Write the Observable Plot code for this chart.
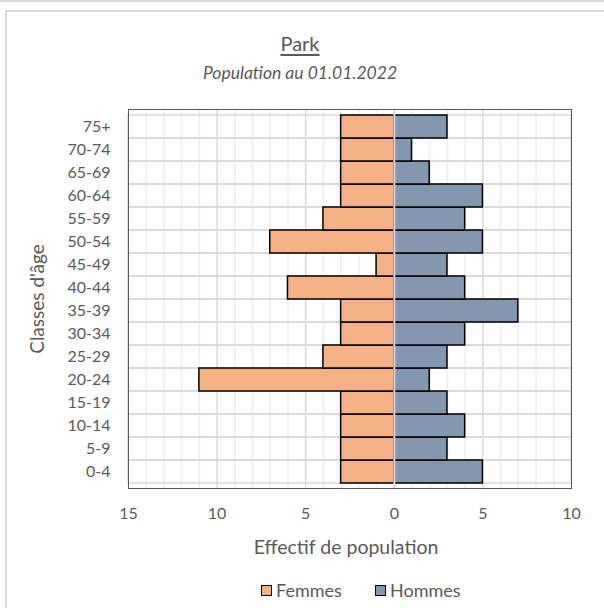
<!DOCTYPE html>
<html><head><meta charset="utf-8">
<script src="https://cdn.jsdelivr.net/npm/d3@7"></script>
<script src="https://cdn.jsdelivr.net/npm/@observablehq/plot@0.6"></script>
<style>
body{margin:0;background:#fff;font-family:Lato,sans-serif;}
#page{position:relative;width:604px;height:608px;overflow:hidden;background:#fff;}
#topbar{position:absolute;left:0;top:0;width:604px;height:2px;background:#d9d9d9}
#border{position:absolute;left:5px;top:10px;width:640px;height:640px;border-left:2px solid #d9d9d9;border-top:2px solid #d9d9d9;}
#title{position:absolute;left:0;width:600px;top:31px;text-align:center;font-size:20px;color:#595959;}
#title span{text-decoration:underline;text-underline-offset:3px;}
#subtitle{position:absolute;left:0;width:600px;top:62px;text-align:center;font-size:17.5px;font-style:italic;color:#595959;}
#chart{position:absolute;left:0;top:90px;}
#legend{position:absolute;left:0;width:604px;top:580px;height:20px;font-size:18px;color:#595959;}
.item{position:absolute;top:0;display:flex;align-items:center;height:20px;}
.sw{width:9px;height:9px;border:1.5px solid #000;margin-right:4px;}
</style>
</head><body>
<div id="page">
  <div id="topbar"></div>
  <div id="border"></div>
  <div id="title"><span>Park</span></div>
  <div id="subtitle">Population au 01.01.2022</div>
  <div id="chart"></div>
  <div id="legend"></div>
</div>
<script>
const ages = ["0-4","5-9","10-14","15-19","20-24","25-29","30-34","35-39","40-44","45-49","50-54","55-59","60-64","65-69","70-74","75+"];
const femmes = [3,3,3,3,11,4,3,3,6,1,7,4,3,3,3,3];
const hommes = [5,3,4,3,2,3,4,7,4,3,5,4,5,2,1,3];
const xTicks = [-15,-10,-5,0,5,10];
const seriesNames = ["Femmes","Hommes"];
const colors = ["#F4B183","#8497B0"];

const xDomain = [xTicks[0], xTicks[xTicks.length-1]];
const data = ages.map((a,i)=>({age:a, f:femmes[i], h:hommes[i]}));
const minor = d3.range(xDomain[0]+1, xDomain[1]).filter(v=>v%5!==0);
const major = d3.range(xDomain[0]+1, xDomain[1]).filter(v=>v%5===0 && v!==0);
const txt = "#595959";

const chart = Plot.plot({
  width:604, height:480,
  marginTop:19, marginBottom:82, marginLeft:128, marginRight:33,
  style:{fontFamily:"Lato, sans-serif", fontSize:"16px", color:txt, background:"transparent"},
  x:{domain:xDomain, axis:null},
  y:{domain:ages.slice().reverse(), padding:0, axis:null},
  marks:[
    Plot.ruleX(minor,{stroke:"#eeeeee", strokeWidth:1.5}),
    Plot.ruleX(major,{stroke:"#d9d9d9", strokeWidth:1.5}),
    Plot.barX(data,{y:"age", x1:()=>xDomain[0], x2:()=>xDomain[1], fill:"none", stroke:"#d9d9d9", strokeWidth:1.5}),
    Plot.barX(data,{y:"age", x1:d=>-d.f, x2:()=>0, fill:colors[0], stroke:"#000", strokeWidth:1.5}),
    Plot.barX(data,{y:"age", x1:()=>0, x2:"h", fill:colors[1], stroke:"#000", strokeWidth:1.5}),
    Plot.ruleX([0],{stroke:"#d6dbe2", strokeWidth:2}),
    Plot.frame({stroke:txt, strokeWidth:1}),
    Plot.text(xTicks,{x:d=>d, text:d=>String(Math.abs(d)), frameAnchor:"bottom", lineAnchor:"middle", textAnchor:"middle", dy:25, fontSize:16, fill:txt}),
    Plot.text(ages,{y:d=>d, text:d=>d, frameAnchor:"left", lineAnchor:"middle", textAnchor:"end", dx:-18, fontSize:16, fill:txt}),
    Plot.text(["Classes d'âge"],{text:d=>d, frameAnchor:"left", textAnchor:"middle", lineAnchor:"middle", dx:-91, rotate:-90, fontSize:19, fill:txt}),
    Plot.text(["Effectif de population"],{text:d=>d, frameAnchor:"bottom", textAnchor:"middle", lineAnchor:"middle", dx:-4, dy:59, fontSize:19.5, fill:txt})
  ]
});
document.getElementById("chart").appendChild(chart);

const lg = document.getElementById("legend");
const lx = [261, 375];
seriesNames.forEach((n,i)=>{
  const it = document.createElement("div");
  it.className="item"; it.style.left = lx[i]+"px";
  it.innerHTML = `<div class="sw" style="background:${colors[i]}"></div><span>${n}</span>`;
  lg.appendChild(it);
});
</script>
</body></html>
